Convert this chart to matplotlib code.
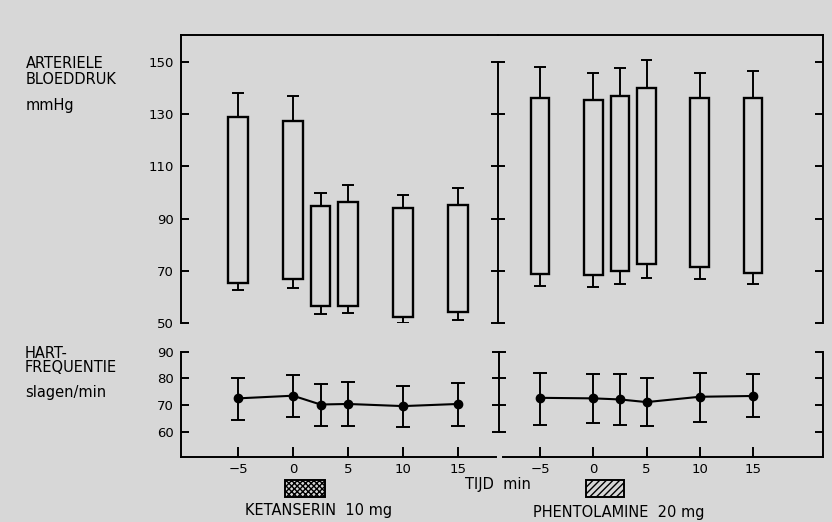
import matplotlib.pyplot as plt
from matplotlib.patches import Rectangle
from matplotlib.transforms import blended_transform_factory
import numpy as np

# Tijdstippen (min) van de metingen
tijd = [-5, 0, 2.5, 5, 10, 15]

# Arteriele bloeddruk (mmHg): box = diastolisch..systolisch, whiskers = spreiding
ket_sys = [129, 127.5, 94.8, 96.2, 94.2, 95.2]
ket_sys_hi = [138, 137, 99.8, 102.8, 99, 101.7]
ket_dia = [65.5, 66.9, 56.8, 56.8, 52.3, 54.3]
ket_dia_lo = [62.8, 63.5, 53.4, 53.8, 50, 51.4]

phe_sys = [136.3, 135.3, 136.8, 140.1, 136.3, 136.3]
phe_sys_hi = [148, 145.8, 147.5, 150.5, 145.8, 146.5]
phe_dia = [68.9, 68.5, 69.9, 72.7, 71.6, 69.2]
phe_dia_lo = [64.3, 63.9, 65, 67.3, 66.9, 65.2]

# Hartfrequentie (slagen/min): gemiddelde met boven- en ondergrens
ket_hf = [72.5, 73.5, 70.2, 70.4, 69.6, 70.4]
ket_hf_hi = [80.2, 81.2, 77.9, 78.5, 77.1, 78.1]
ket_hf_lo = [64.4, 65.4, 62.1, 62.2, 61.9, 62.2]

phe_hf = [72.7, 72.5, 72.1, 71.1, 73.1, 73.4]
phe_hf_hi = [82.2, 81.7, 81.5, 80.1, 81.9, 81.5]
phe_hf_lo = [62.7, 63.1, 62.6, 62.1, 63.7, 65.6]

# Infuusperiode (min)
ket_infuus = (-0.7, 2.9)
phe_infuus = (-0.7, 2.9)

bd_ticks = [50, 70, 90, 110, 130, 150]
hf_ticks = [60, 70, 80, 90]
x_ticks = [-5, 0, 5, 10, 15]
x_labels = ['\u22125', '0', '5', '10', '15']

achtergrond = '#d7d7d7'
plt.rcParams['font.family'] = ['DejaVu Sans']
plt.rcParams['hatch.linewidth'] = 1.0

W, H = 832, 522
fig = plt.figure(figsize=(W / 100, H / 100), dpi=100, facecolor=achtergrond)


def ax_px(x0, x1, y0, y1):
    # assen plaatsen in pixelcoordinaten (y van boven)
    a = fig.add_axes([x0 / W, 1 - y1 / H, (x1 - x0) / W, (y1 - y0) / H])
    a.set_facecolor('none')
    return a


ax_tl = ax_px(181, 498, 35, 323.3)
ax_tr = ax_px(498, 823, 35, 323.3)
ax_bl = ax_px(181, 496, 351.7, 457.3)
ax_br = ax_px(499, 823, 351.7, 457.3)

# x-schalen van beide helften
ax_tl.set_xlim(-5 + (181 - 238) / 11, -5 + (498 - 238) / 11)
ax_bl.set_xlim(-5 + (181 - 238) / 11, -5 + (496 - 238) / 11)
ax_tr.set_xlim(-5 + (498 - 540) / 10.65, -5 + (823 - 540) / 10.65)
ax_br.set_xlim(-5 + (499 - 540) / 10.65, -5 + (823 - 540) / 10.65)

for a in (ax_tl, ax_tr):
    a.set_ylim(50, 160.2)
for a in (ax_bl, ax_br):
    a.set_ylim(50.4, 90)

lw = 1.4
for a in (ax_tl, ax_tr, ax_bl, ax_br):
    for s in a.spines.values():
        s.set_linewidth(lw)

# bovenpaneel links
ax_tl.spines['bottom'].set_visible(False)
ax_tl.spines['right'].set_visible(False)
ax_tl.set_xticks([])
ax_tl.set_yticks(bd_ticks)
ax_tl.tick_params(axis='y', direction='in', length=6, width=lw, labelsize=9.5, pad=5)

# bovenpaneel rechts
ax_tr.spines['bottom'].set_visible(False)
ax_tr.spines['left'].set_bounds(50, 150)
ax_tr.set_xticks([])
ax_tr.set_yticks(bd_ticks)
ax_tr.tick_params(axis='y', which='both', left=True, right=True, labelleft=False,
                  width=lw)
ax_tr.yaxis.set_tick_params(which='major', direction='in', length=6)
for t in ax_tr.yaxis.get_major_ticks():
    t.tick1line.set_marker('_')
    t.tick1line.set_markersize(10)

# onderpaneel links
ax_bl.spines['top'].set_visible(False)
ax_bl.spines['right'].set_visible(False)
ax_bl.set_yticks(hf_ticks)
ax_bl.tick_params(axis='y', direction='in', length=6, width=lw, labelsize=9.5, pad=5)

# onderpaneel rechts
ax_br.spines['top'].set_visible(False)
ax_br.spines['left'].set_bounds(60, 90)
ax_br.spines['bottom'].set_bounds(ax_br.get_xlim()[0] + 0.35, ax_br.get_xlim()[1])
ax_br.set_yticks(hf_ticks)
ax_br.tick_params(axis='y', left=True, right=True, labelleft=False,
                  direction='in', length=6, width=lw)
for t in ax_br.yaxis.get_major_ticks():
    t.tick1line.set_marker('_')
    t.tick1line.set_markersize(10)

for a in (ax_bl, ax_br):
    a.set_xticks(x_ticks)
    a.set_xticklabels(x_labels)
    a.tick_params(axis='x', direction='in', length=7, width=lw, labelsize=9.5, pad=4)


def bloeddruk(a, sys_, sys_hi, dia, dia_lo):
    x = np.array(tijd)
    sys_ = np.array(sys_)
    dia = np.array(dia)
    a.bar(x, sys_ - dia, bottom=dia, width=1.75, facecolor='none',
          edgecolor='black', linewidth=1.7, zorder=3)
    a.vlines(x, sys_, sys_hi, color='black', linewidth=1.4)
    a.vlines(x, dia_lo, dia, color='black', linewidth=1.4)
    a.hlines(sys_hi, x - 0.55, x + 0.55, color='black', linewidth=1.4)
    a.hlines(dia_lo, x - 0.55, x + 0.55, color='black', linewidth=1.4)


def hartfrequentie(a, hf, hi, lo):
    hf = np.array(hf)
    a.errorbar(tijd, hf, yerr=[hf - np.array(lo), np.array(hi) - hf],
               fmt='-o', color='black', markersize=6, linewidth=1.5,
               elinewidth=1.4, capsize=5, capthick=1.4)


bloeddruk(ax_tl, ket_sys, ket_sys_hi, ket_dia, ket_dia_lo)
bloeddruk(ax_tr, phe_sys, phe_sys_hi, phe_dia, phe_dia_lo)
hartfrequentie(ax_bl, ket_hf, ket_hf_hi, ket_hf_lo)
hartfrequentie(ax_br, phe_hf, phe_hf_hi, phe_hf_lo)

# infuusblokjes onder de tijdas
for a, (t0, t1), arcering in ((ax_bl, ket_infuus, 'xxxxxx'),
                              (ax_br, phe_infuus, '/////')):
    tr = blended_transform_factory(a.transData, a.transAxes)
    a.add_patch(Rectangle((t0, -0.376), t1 - t0, 0.161, transform=tr,
                          facecolor='none', edgecolor='black', hatch=arcering,
                          linewidth=1.4, clip_on=False))

tekst = dict(fontsize=10.5, va='center', ha='left')
fig.text(26 / W, 1 - 63 / H, 'ARTERIELE', **tekst)
fig.text(26 / W, 1 - 80 / H, 'BLOEDDRUK', **tekst)
fig.text(26 / W, 1 - 106 / H, 'mmHg', **tekst)
fig.text(25 / W, 1 - 353 / H, 'HART-', **tekst)
fig.text(25 / W, 1 - 368 / H, 'FREQUENTIE', **tekst)
fig.text(25 / W, 1 - 392 / H, 'slagen/min', **tekst)
fig.text(465 / W, 1 - 484 / H, 'TIJD  min', **tekst)
fig.text(245 / W, 1 - 510 / H, 'KETANSERIN  10 mg', **tekst)
fig.text(533 / W, 1 - 512 / H, 'PHENTOLAMINE  20 mg', **tekst)

fig.savefig('out.png', dpi=100, facecolor=achtergrond)
